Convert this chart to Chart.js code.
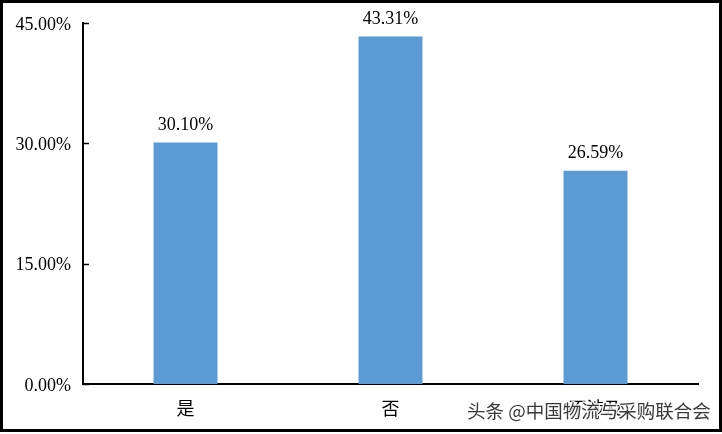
<!DOCTYPE html>
<html>
<head>
<meta charset="utf-8">
<script src="https://cdn.jsdelivr.net/npm/chart.js@4"></script>
<style>
  html, body { margin: 0; padding: 0; background: #fff; }
  #wrap { width: 722px; height: 434px; }
</style>
</head>
<body>
<div id="wrap"><canvas id="chart" width="722" height="434"></canvas></div>
<script>
const categories = ['是', '否', '不涉及'];
const shares = [30.10, 43.31, 26.59];
const yTicks = [0, 15, 30, 45];
const watermark = '头条 @中国物流与采购联合会';

const serif = '"Liberation Serif", "Times New Roman", "Noto Sans CJK SC", serif';

// 边框、内侧刻度、数据标签和水印
const extras = {
    id: 'extras',
    afterDatasetsDraw(chart) {
        const c = chart.ctx;
        const y = chart.scales.y;
        const area = chart.chartArea;
        c.save();
        c.strokeStyle = '#000';
        c.lineWidth = 1.5;
        yTicks.forEach(v => {
            const py = Math.round(y.getPixelForValue(v)) + 0.5;
            c.beginPath();
            c.moveTo(area.left, py);
            c.lineTo(area.left + 6, py);
            c.stroke();
        });
        c.fillStyle = '#000';
        c.font = '18px ' + serif;
        c.textAlign = 'center';
        c.textBaseline = 'middle';
        chart.getDatasetMeta(0).data.forEach((bar, i) => {
            c.fillText(shares[i].toFixed(2) + '%', bar.x, bar.y - 17);
        });
        c.restore();
    },
    afterDraw(chart) {
        const c = chart.ctx;
        c.save();
        c.strokeStyle = '#000';
        c.lineWidth = 3;
        c.strokeRect(1.5, 1.5, 719, 429);
        c.font = '18.5px "Noto Sans CJK SC", sans-serif';
        c.textAlign = 'left';
        c.textBaseline = 'middle';
        c.lineJoin = 'round';
        c.strokeStyle = 'rgba(255,255,255,0.85)';
        c.lineWidth = 3;
        c.strokeText(watermark, 467, 411);
        c.fillStyle = '#3a3a3a';
        c.fillText(watermark, 467, 411);
        c.restore();
    }
};

new Chart(document.getElementById('chart'), {
    type: 'bar',
    data: {
        labels: categories,
        datasets: [{
            data: shares,
            backgroundColor: '#5B9BD5',
            categoryPercentage: 1,
            barPercentage: 0.312
        }]
    },
    options: {
        responsive: false,
        animation: false,
        devicePixelRatio: 1,
        layout: { padding: { top: 23, right: 24, left: 0, bottom: 0 } },
        plugins: { legend: { display: false }, tooltip: { enabled: false } },
        scales: {
            x: {
                grid: { display: false, drawTicks: false },
                border: { color: '#000', width: 2 },
                ticks: { color: '#000', padding: 15, font: { size: 18, family: serif } },
                afterFit(s) { s.height = 50; }
            },
            y: {
                min: 0,
                max: 45,
                afterBuildTicks(s) { s.ticks = yTicks.map(v => ({ value: v })); },
                grid: { display: false, drawTicks: false },
                border: { color: '#000', width: 2 },
                ticks: {
                    color: '#000',
                    padding: 12,
                    labelOffset: 2,
                    font: { size: 18, family: serif },
                    callback: v => v.toFixed(2) + '%'
                },
                afterFit(s) { s.width = 83; }
            }
        }
    },
    plugins: [extras]
});
</script>
</body>
</html>
